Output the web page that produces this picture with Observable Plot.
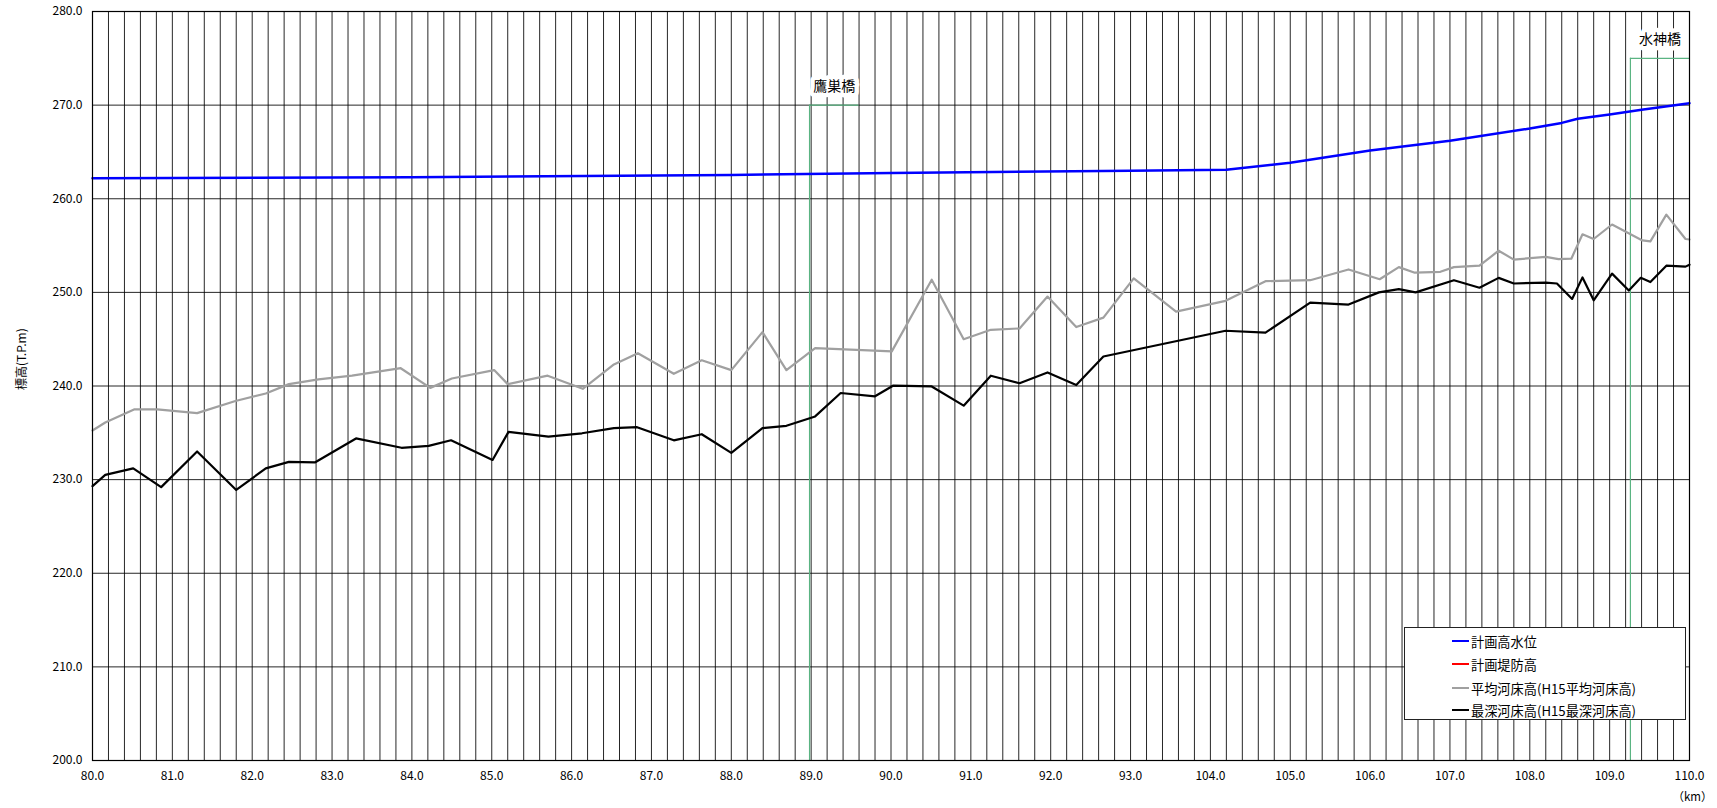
<!DOCTYPE html>
<html>
<head>
<meta charset="utf-8">
<script src="https://cdn.jsdelivr.net/npm/d3@7"></script>
<script src="https://cdn.jsdelivr.net/npm/@observablehq/plot@0.6"></script>
<style>
  html, body { margin: 0; padding: 0; background: #fff; }
  #wrap { position: relative; width: 1717px; height: 808px; font-family: "Noto Sans CJK JP", "Noto Sans", sans-serif; }
  #legend { position: absolute; left: 1404px; top: 627px; width: 282px; height: 93px; border: 1px solid #222; background: #fff; box-sizing: border-box; }
  .row { position: absolute; left: 0; height: 20px; display: flex; align-items: center; font-size: 13.2px; color: #000; white-space: nowrap; }
  .sw { display: inline-block; width: 17px; height: 2.5px; margin-left: 47px; margin-right: 2px; }
</style>
</head>
<body>
<div id="wrap"><div id="chart"></div><div id="legend"></div></div>
<script>
// ---- data ----
const xTickLabels = ["80.0","81.0","82.0","83.0","84.0","85.0","86.0","87.0","88.0","89.0","90.0","91.0","92.0","93.0","104.0","105.0","106.0","107.0","108.0","109.0","110.0"];
const xTickKm = [80,81,82,83,84,85,86,87,88,89,90,91,92,93,104,105,106,107,108,109,110];
const yTicks = [200,210,220,230,240,250,260,270,280];

const hwlKm = [80.0, 84.0, 88.0, 90.0, 93.0, 104.2, 105.0, 106.0, 107.0, 108.0, 108.4, 108.6, 109.0, 109.4, 110.0];
const hwlV  = [262.2, 262.3, 262.55, 262.75, 263.0, 263.1, 263.85, 265.15, 266.2, 267.5, 268.1, 268.55, 269.0, 269.5, 270.2];

const avgKm = [80.00,80.16,80.52,80.81,81.31,81.79,82.17,82.46,82.83,83.25,83.86,84.23,84.50,85.03,85.20,85.70,86.14,86.53,86.83,87.28,87.63,88.00,88.39,88.69,89.05,90.01,90.51,90.91,91.25,91.61,91.96,92.32,92.66,93.44,99.27,104.19,104.69,105.25,105.73,106.12,106.36,106.56,106.88,107.05,107.37,107.61,107.80,108.20,108.36,108.52,108.66,108.80,109.03,109.41,109.51,109.71,109.95,110.00];
const avgV  = [235.25,236.1,237.5,237.5,237.1,238.4,239.2,240.2,240.7,241.1,241.9,239.8,240.8,241.7,240.2,241.1,239.7,242.3,243.5,241.3,242.75,241.7,245.75,241.7,244.05,243.7,251.35,245.0,246.0,246.15,249.55,246.3,247.3,251.5,247.95,249.1,251.2,251.3,252.45,251.4,252.7,252.1,252.2,252.7,252.85,254.45,253.5,253.8,253.55,253.6,256.2,255.7,257.25,255.55,255.45,258.3,255.7,255.65];

const deepKm = [80.00,80.16,80.51,80.86,81.31,81.80,82.17,82.46,82.79,83.30,83.87,84.21,84.49,85.01,85.21,85.71,86.13,86.53,86.82,87.28,87.63,88.00,88.39,88.69,89.05,89.37,89.80,90.03,90.51,90.91,91.25,91.61,91.96,92.32,92.66,104.19,104.69,105.25,105.73,106.11,106.36,106.57,107.05,107.37,107.61,107.80,108.20,108.34,108.53,108.66,108.80,109.03,109.24,109.39,109.51,109.71,109.95,110.00];
const deepV  = [229.3,230.5,231.2,229.2,233.0,228.9,231.2,231.9,231.85,234.4,233.4,233.6,234.2,232.1,235.1,234.6,234.95,235.5,235.6,234.2,234.85,232.85,235.5,235.75,236.75,239.25,238.9,240.05,239.95,237.9,241.1,240.3,241.45,240.1,243.15,245.9,245.7,248.9,248.7,250.0,250.35,250.0,251.3,250.5,251.55,250.95,251.05,250.95,249.3,251.6,249.15,252.0,250.2,251.55,251.1,252.85,252.75,252.95];

const bridgeNames = ["鷹巣橋", "水神橋"];
const bridgeKm    = [88.98, 109.26];
const bridgeEndKm = [89.6, 110.0];
const bridgeTop   = [270, 275];

const seriesNames  = ["計画高水位", "計画堤防高", "平均河床高(H15平均河床高)", "最深河床高(H15最深河床高)"];
const seriesColors = ["#0000ff", "#ff0000", "#a0a0a0", "#000000"];

// ---- build ----
// broken axis: 80-93 and 104-110 km, the gap 93->104 drawn as one label step
const pos = d3.scaleLinear().domain([80, 93, 104, 110]).range([0, 13, 14, 20]);
const zip = (k, v) => k.map((km, i) => ({km, v: v[i]}));
const hwl = zip(hwlKm, hwlV);
const avg = zip(avgKm, avgV);
const deep = zip(deepKm, deepV);
const bridges = bridgeNames.map((name, i) => ({name, km: bridgeKm[i], end: bridgeEndKm[i], top: bridgeTop[i]}));
const tickPos = xTickKm.map(pos);
const labelAt = new Map(tickPos.map((p, i) => [p, xTickLabels[i]]));
const gridPos = d3.range(0, 100.5, 1).map(i => i / 5);
const green = "#5ab482";

const chart = Plot.plot({
  width: 1717,
  height: 808,
  marginTop: 11,
  marginBottom: 48,
  marginLeft: 92,
  marginRight: 28,
  style: {fontFamily: "'Noto Sans CJK JP', 'Noto Sans', sans-serif", fontSize: "12px", color: "#000", background: "#fff"},
  x: {domain: [0, 20]},
  y: {domain: [200, 280]},
  marks: [
    Plot.gridX(gridPos, {stroke: "#000", strokeOpacity: 0.85, strokeWidth: 1}),
    Plot.gridY(yTicks, {stroke: "#000", strokeOpacity: 0.85, strokeWidth: 1}),
    Plot.axisX(tickPos, {tickSize: 0, tickPadding: 11, tickFormat: d => labelAt.get(d), label: null, fontSize: 12}),
    Plot.axisY(yTicks, {tickSize: 0, tickPadding: 10, tickFormat: d => d.toFixed(1), label: null, fontSize: 12}),
    Plot.ruleX(bridges, {x: d => pos(d.km), y1: yTicks[0], y2: "top", stroke: green, strokeWidth: 1.2}),
    Plot.ruleY(bridges, {y: "top", x1: d => pos(d.km), x2: d => pos(d.end), stroke: green, strokeWidth: 1.2}),
    Plot.text(bridges, {x: d => (pos(d.km) + pos(d.end)) / 2, y: "top", dy: -19, text: "name", fontSize: 14, fill: "#000", stroke: "#fff", strokeWidth: 9, paintOrder: "stroke"}),
    Plot.line(avg, {x: d => pos(d.km), y: "v", stroke: seriesColors[2], strokeWidth: 2.2}),
    Plot.line(deep, {x: d => pos(d.km), y: "v", stroke: seriesColors[3], strokeWidth: 2.2}),
    Plot.line(hwl, {x: d => pos(d.km), y: "v", stroke: seriesColors[0], strokeWidth: 2.5}),
    Plot.frame({stroke: "#000", strokeWidth: 1.2}),
    Plot.text(["標高(T.P.m)"], {frameAnchor: "left", dx: -70, dy: 4, rotate: -90, fontSize: 12, fill: "#000"}),
    Plot.text(["（km）"], {frameAnchor: "bottom-right", textAnchor: "middle", dy: 40, dx: 3, fontSize: 11.5, fill: "#000"})
  ]
});
document.getElementById("chart").appendChild(chart);

// legend (inside plot area, as in the source chart)
const legend = document.getElementById("legend");
const rowTops = [3, 26, 50, 72];
seriesNames.forEach((name, i) => {
  const row = document.createElement("div");
  row.className = "row";
  row.style.top = rowTops[i] + "px";
  const sw = document.createElement("span");
  sw.className = "sw";
  sw.style.background = seriesColors[i];
  const t = document.createElement("span");
  t.textContent = name;
  row.appendChild(sw);
  row.appendChild(t);
  legend.appendChild(row);
});
</script>
</body>
</html>
